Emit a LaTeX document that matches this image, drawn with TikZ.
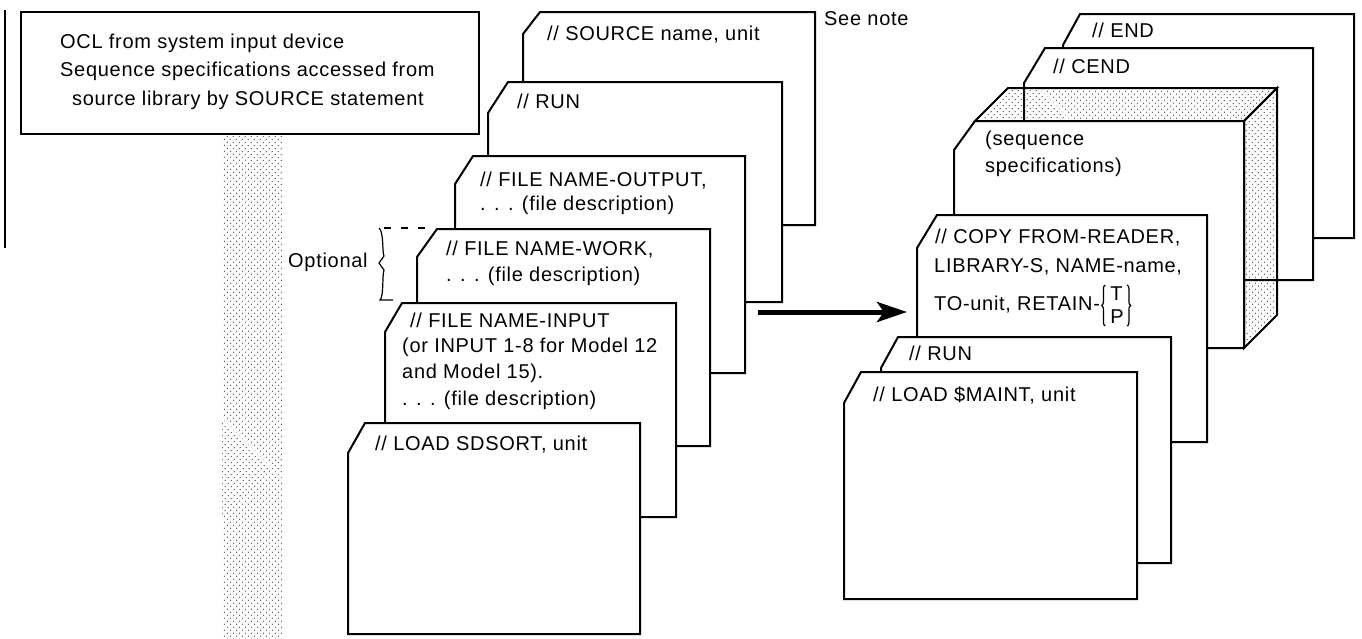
\documentclass[tikz,border=0pt]{standalone}
\usepackage{fontspec}
\setmainfont{Liberation Sans}[LetterSpace=3.5]
\usetikzlibrary{arrows.meta,patterns.meta,decorations.pathreplacing}
\newcommand\cardpath[6]{%
  \filldraw[cardline] ({#1+#5},#2) -- (#3,#2) -- (#3,#4) -- (#1,#4) -- (#1,{#2+#6}) -- cycle;}
\tikzset{
  cardline/.style={draw=black, fill=white, line width=2pt, line join=miter},
  txt/.style={anchor=base west, inner sep=0pt, font=\fontsize{20}{24}\selectfont},
  dotfill/.style={pattern={Dots[distance=4pt, radius=0.65pt, angle=45]}, pattern color=black!80},
  bigarrow/.style={line width=5pt, -{Stealth[length=30pt, width=20pt, inset=7pt]}},
  thinbrace/.style={line width=1.2pt, decorate, decoration={brace, amplitude=3.5pt}}
}
\begin{document}
\begin{tikzpicture}[x=1pt, y=-1pt]
\useasboundingbox (0,0) rectangle (1362,638);

% left margin rule
\draw[line width=1.5pt] (5,10) -- (5,248);

% shaded strip
\fill[dotfill] (222,134) rectangle (282,638);

% top-left box
\draw[line width=2pt] (21,12) rectangle (479,134);
\node[txt] (ocl1) at (60,48) {OCL from system input device};
\node[txt] (ocl2) at (60,76) {Sequence specifications accessed from};
\node[txt] (ocl3) at (72,105) {source library by SOURCE statement};

% ---------- left stack ----------
\cardpath{523}{12}{815}{225}{17}{22}
\node[txt] (src) at (547,40) {// SOURCE name, unit};
\node[txt] (note) at (824,25) {See note};

\cardpath{488}{82}{782}{302}{20}{31}
\node[txt] (run1) at (517,108) {// RUN};

\cardpath{455}{156}{745}{373}{18}{28}
\node[txt] (out1) at (480,186) {// FILE NAME-OUTPUT,};
\node[txt] (out2) at (480,210) {. . . (file description)};

\cardpath{417}{229}{710}{446}{20}{28}
\node[txt] (wrk1) at (446,255) {// FILE NAME-WORK,};
\node[txt] (wrk2) at (446,281) {. . . (file description)};

\cardpath{385}{303}{676}{517}{17}{29}
\node[txt] (inp1) at (410,327) {// FILE NAME-INPUT};
\node[txt] (inp2) at (402,352) {(or INPUT 1-8 for Model 12};
\node[txt] (inp3) at (402,378) {and Model 15).};
\node[txt] (inp4) at (402,405) {. . . (file description)};

\cardpath{348}{423}{640}{634}{17}{30}
\node[txt] (sds) at (375,450) {// LOAD SDSORT, unit};

% optional bracket
\node[txt] (opt) at (288,267) {Optional};
\draw[line width=1.2pt, dash pattern=on 7pt off 10pt] (384,228) -- (432,228);
\draw[line width=1.2pt] (379,228) .. controls (384,232) and (382,252) .. (384,256)
  -- (379,263) -- (384,270) .. controls (382,276) and (384,296) .. (380,300) -- (393,300);

% arrow
\coordinate (arrA) at (758,312);
\coordinate (arrB) at (907,312);
\draw[bigarrow] (arrA) -- (arrB);

% ---------- right stack ----------
\cardpath{1063}{14}{1354}{238}{17}{31}
\node[txt] (end) at (1092,37) {// END};

\cardpath{1024}{48}{1313}{280}{21}{35}
\node[txt] (cend) at (1053,73) {// CEND};

% 3D block
\filldraw[line width=2pt, line join=miter, draw=black, dotfill] (975,121) -- (1008,88) -- (1277,88) -- (1244,121) -- cycle;
\filldraw[line width=2pt, line join=miter, draw=black, dotfill] (1244,121) -- (1277,88) -- (1277,315) -- (1244,348) -- cycle;
\cardpath{954}{121}{1244}{348}{21}{29}
\node[txt] (seq1) at (985,145) {(sequence};
\node[txt] (seq2) at (985,172) {specifications)};

\cardpath{917}{215}{1207}{442}{20}{33}
\node[txt] (cpy1) at (935,243) {// COPY FROM-READER,};
\node[txt] (cpy2) at (934,272) {LIBRARY-S, NAME-name,};
\node[txt] (cpy3) at (934,310) {TO-unit, RETAIN-};
\node[txt] (optT) at ([xshift=10pt, yshift=10pt]cpy3.base east) {T};
\node[txt] (optP) at ([xshift=10pt, yshift=-13pt]cpy3.base east) {P};
\draw[thinbrace, decoration={mirror}] ([xshift=5pt, yshift=25pt]cpy3.base east) -- ([xshift=5pt, yshift=-16pt]cpy3.base east);
\draw[thinbrace] ([xshift=27pt, yshift=25pt]cpy3.base east) -- ([xshift=27pt, yshift=-16pt]cpy3.base east);

\cardpath{881}{337}{1171}{563}{17}{31}
\node[txt] (run2) at (909,360) {// RUN};

\cardpath{844}{372}{1137}{599}{17}{31}
\node[txt] (ldm) at (873,401) {// LOAD \$MAINT, unit};
\end{tikzpicture}
\end{document}
